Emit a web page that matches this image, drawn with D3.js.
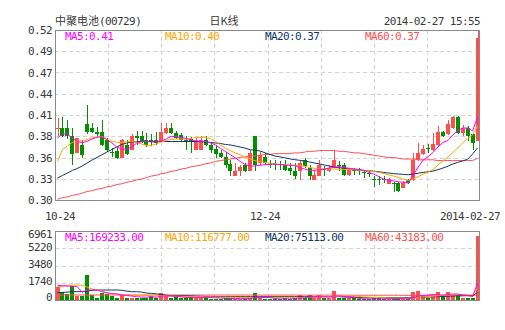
<!DOCTYPE html>
<html><head><meta charset="utf-8">
<script src="https://cdn.jsdelivr.net/npm/d3@7"></script>
<style>
body{margin:0;background:#fff;}
svg{display:block;}
.mono{font-family:"DejaVu Sans Mono",monospace;font-size:11px;letter-spacing:-0.6px;}
.cjk{font-family:"Noto Sans CJK SC",sans-serif;font-size:11px;}
</style></head><body>
<svg id="c" width="505" height="330"></svg>
<script>
const title = "中聚电池";
const code = "(00729)";
const chartName = "日K线";
const stamp = "2014-02-27 15:55";
const xLabels = ["10-24", "12-24", "2014-02-27"];
const xLabelIdx = [0, 42, 85];
const priceTicks = [0.30, 0.3275, 0.355, 0.3825, 0.41, 0.4375, 0.465, 0.4925, 0.52];
const priceTickLabels = ["0.30", "0.33", "0.36", "0.38", "0.41", "0.44", "0.47", "0.49", "0.52"];
const volTicks = [0, 1740.25, 3480.5, 5220.75, 6961];
const volTickLabels = ["0", "1740", "3480", "5220", "6961"];
const maNames = ["MA5", "MA10", "MA20", "MA60"];
const maPriceText = ["0.41", "0.40", "0.37", "0.37"];
const maVolText = ["169233.00", "116777.00", "75113.00", "43183.00"];

const open = [.393,.393,.393,.383,.361,.371,.398,.393,.388,.388,
.378,.3615,.363,.354,.371,.365,.383,.383,.378,.377,
.378,.376,.387,.393,.387,.384,.3782,.379,.365,.365,
.378,.371,.366,.361,.3556,.3466,.331,.3375,.345,.3375,
.383,.348,.3556,.3466,.346,.346,.3453,.3414,.3375,.3375,
.352,.3414,.326,.331,.340,.3375,.3414,.3459,.3453,.3324,
.3382,.3382,.3356,.3343,.3278,.3278,.3278,.3207,.3220,.3220,
.3155,.3259,.3259,.3518,.3595,.3673,.3647,.3712,.3880,.3854,
.3932,.4074,.3867,.3932,.3854,.3764];
const close = [.393,.383,.383,.3595,.380,.358,.388,.388,.385,.371,
.365,.361,.354,.378,.3595,.383,.380,.376,.371,.3764,
.374,.388,.393,.387,.380,.378,.3776,.376,.376,.378,
.371,.365,.3595,.3556,.3453,.3375,.3375,.343,.3375,.361,
.345,.358,.348,.3453,.3453,.3453,.339,.3375,.331,.348,
.344,.331,.3324,.3453,.339,.3414,.352,.3453,.3324,.3388,
.3375,.3375,.3349,.3336,.3272,.3272,.3272,.3272,.3207,.3116,
.3220,.3220,.3518,.3608,.3660,.3666,.3725,.3880,.3828,.3984,
.4074,.3867,.3932,.3828,.3738,.5096];
const high = [.406,.407,.4035,.393,.380,.378,.423,.3997,.3945,.4035,
.380,.367,.367,.379,.378,.385,.389,.389,.387,.385,
.388,.3997,.3997,.3997,.389,.387,.383,.3815,.380,.383,
.383,.374,.371,.365,.362,.352,.348,.345,.348,.365,
.383,.362,.361,.352,.352,.3505,.352,.348,.348,.352,
.3544,.3453,.339,.352,.344,.3453,.3634,.3505,.3479,.3414,
.3414,.3414,.3388,.3375,.3311,.3311,.3311,.3285,.3233,.3233,
.3246,.3272,.3608,.3738,.3712,.3725,.3867,.3958,.3893,.4035,
.4087,.4087,.3971,.3958,.3867,.52];
const low = [.383,.382,.379,.345,.361,.354,.385,.387,.383,.370,
.362,.3556,.353,.354,.358,.365,.371,.374,.369,.370,
.371,.376,.385,.385,.379,.376,.365,.361,.365,.365,
.370,.361,.354,.354,.3414,.331,.331,.331,.336,.3375,
.3375,.345,.345,.3414,.339,.339,.3375,.3324,.327,.326,
.3414,.326,.326,.331,.331,.336,.3414,.3375,.3311,.3311,
.3324,.3324,.3285,.3298,.3168,.3194,.3220,.3207,.3104,.3104,
.3155,.3207,.3246,.3505,.3582,.3608,.3634,.3699,.3815,.3841,
.3919,.3854,.3828,.3764,.3647,.3764];
const volume = [1340,840,605,1410,400,400,2520,500,230,740,
605,440,230,500,170,230,230,230,170,400,
170,740,400,170,330,170,170,400,170,170,
400,100,100,100,170,170,100,100,100,170,
740,170,100,100,100,100,170,100,170,500,
170,500,170,500,170,170,910,230,230,170,
170,100,100,100,170,170,100,170,170,170,
170,170,780,910,500,230,500,780,500,780,
500,550,230,230,230,6460];

const ma5 = [.3802,.3854,.3851,.3802,.3757,.3740,.3760,.3789,.3813,.3818,
.3780,.3738,.3686,.3660,.3656,.3686,.3734,.3753,.3757,.3751,
.3751,.3764,.3789,.3824,.3818,.3811,.3796,.3779,.3767,.3760,
.3757,.3738,.3712,.3667,.3628,.3585,.3544,.3498,.3457,.3440,
.3440,.3449,.3458,.3463,.3465,.3459,.3453,.3450,.3443,.3423,
.3401,.3381,.3385,.3391,.3401,.3414,.3423,.3432,.3421,.3410,
.3404,.3395,.3383,.3359,.3334,.3304,.3269,.3255,.3246,.3235,
.3228,.3220,.3324,.3427,.3518,.3563,.3615,.3686,.3744,.3770,
.3841,.3899,.3932,.3932,.3893,.4074];
const ma10 = [.3498,.3653,.3699,.3744,.3761,.3769,.3780,.3805,.3819,.3822,
.3789,.3760,.3748,.3741,.3751,.3760,.3744,.3725,.3708,.3708,
.3725,.3751,.3770,.3783,.3789,.3789,.3789,.3796,.3809,.3811,
.3809,.3796,.3760,.3712,.3670,.3638,.3608,.3582,.3553,.3531,
.3508,.3498,.3488,.3476,.3466,.3461,.3457,.3453,.3449,.3443,
.3436,.3421,.3408,.3401,.3401,.3401,.3401,.3399,.3396,.3393,
.3392,.3387,.3382,.3377,.3371,.3356,.3343,.3325,.3311,.3291,
.3269,.3252,.3272,.3304,.3333,.3362,.3395,.3453,.3505,.3556,
.3615,.3673,.3738,.3796,.3841,.3958];
const ma20 = [.3285,.3317,.3349,.3382,.3408,.3440,.3479,.3518,.3550,.3586,
.3621,.3653,.3686,.3718,.3738,.3751,.3754,.3757,.3757,.3757,
.3757,.3757,.3757,.3757,.3757,.3757,.3757,.3757,.3757,.3754,
.3751,.3744,.3738,.3731,.3718,.3712,.3699,.3686,.3670,.3651,
.3643,.3634,.3611,.3589,.3569,.3559,.3546,.3533,.3522,.3514,
.3505,.3492,.3479,.3466,.3453,.3440,.3425,.3417,.3409,.3401,
.3393,.3388,.3383,.3378,.3373,.3365,.3357,.3349,.3341,.3336,
.3331,.3327,.3336,.3347,.3357,.3365,.3375,.3392,.3414,.3437,
.3466,.3488,.3505,.3528,.3595,.3673];
const ma60 = [.301,.303,.304,.306,.307,.309,.311,.312,.314,.315,
.317,.318,.320,.321,.323,.324,.326,.327,.329,.331,
.332,.334,.335,.337,.338,.340,.341,.343,.344,.345,
.347,.348,.350,.351,.352,.353,.354,.355,.356,.357,
.357,.358,.359,.359,.360,.360,.360,.360,.361,.361,
.362,.363,.363,.364,.364,.364,.364,.363,.363,.362,
.361,.361,.360,.359,.358,.357,.356,.355,.355,.354,
.353,.353,.353,.352,.352,.352,.352,.351,.351,.351,
.351,.351,.351,.351,.351,.354];

const vma5 = [1470,1440,1400,1400,1340,780,1010,1010,1010,840,
740,640,600,500,450,400,330,300,280,300,
280,380,400,400,370,320,250,270,260,250,
270,250,220,200,180,160,150,140,140,150,
250,260,250,250,150,110,110,110,120,200,
200,300,300,330,330,300,400,400,350,330,
300,150,120,110,110,120,110,120,120,130,
110,110,250,400,480,500,560,560,500,560,
600,600,500,450,350,1690];
const vma10 = [1340,1360,1480,1510,1510,1480,1300,1100,1050,900,
700,650,620,560,520,500,480,470,450,420,
400,400,400,390,380,370,360,350,340,330,
320,310,300,290,280,270,260,250,250,250,
260,260,260,260,250,240,230,230,230,240,
250,270,290,310,330,340,360,370,380,380,
370,350,320,290,260,240,220,200,190,180,
170,170,210,260,300,340,380,420,460,500,
520,540,550,540,520,1170];
const vma20 = [740,760,800,840,840,840,900,980,1010,1010,
1010,1010,1010,980,900,840,840,800,700,670,
620,550,480,440,434,434,434,420,400,380,
370,360,350,340,340,333,333,333,333,333,
333,333,333,333,333,333,333,333,333,333,
333,333,333,333,333,333,333,333,300,280,
260,240,230,230,230,230,230,230,230,230,
230,230,240,260,280,300,320,340,360,380,
400,420,430,440,440,751];
const vma60 = [505,505,505,505,505,505,505,505,505,505,
505,505,505,505,505,505,505,505,505,505,
505,505,505,505,505,505,505,505,505,505,
500,500,500,500,500,500,500,500,500,500,
495,495,495,495,495,495,495,495,495,495,
490,490,490,490,490,490,490,490,490,490,
480,480,480,480,480,480,480,480,480,480,
470,465,460,455,450,450,445,445,440,440,
440,440,440,440,440,432];

const maColors = ["#ff00ff", "#ffa500", "#0f3767", "#ff5050"];
const UP = "#ff4e4e", DOWN = "#009000";
const GRID = "#d3d3d3", FRAME = "#8a8a8a", TXT = "#3a3a3a";

const svg = d3.select("#c");
const L = 55, R = 480, T = 30, B = 200, VT = 231, VB = 300;
const n = close.length;
const x = d3.scaleBand().domain(d3.range(n)).range([L, R]).padding(0);
const bw = x.bandwidth();
const y = d3.scaleLinear().domain([0.30, 0.52]).range([B, T]);
const vy = d3.scaleLinear().domain([0, 6961]).range([VB, VT]);
const cx = i => x(i) + bw / 2;

// header
const t1 = svg.append("text").attr("x", 55).attr("y", 25).attr("fill", TXT);
t1.append("tspan").attr("class", "cjk").text(title);
t1.append("tspan").attr("class", "mono").text(code);
svg.append("text").attr("class", "cjk").attr("x", 224).attr("y", 25)
  .attr("text-anchor", "middle").attr("fill", TXT).text(chartName);
svg.append("text").attr("class", "mono").attr("x", 480).attr("y", 25)
  .attr("text-anchor", "end").attr("fill", TXT).text(stamp);

function grid(top, bottom, yTicks, sc) {
  const g = svg.append("g").attr("stroke", GRID).attr("stroke-dasharray", "4,3")
    .attr("shape-rendering", "crispEdges");
  for (let k = 1; k < 8; k++) {
    const gx = Math.round(L + k * (R - L) / 8) + 0.5;
    g.append("line").attr("x1", gx).attr("x2", gx).attr("y1", top).attr("y2", bottom);
  }
  yTicks.forEach(v => {
    const gy = Math.round(sc(v)) + 0.5;
    if (gy > top + 1 && gy < bottom - 1)
      g.append("line").attr("x1", L).attr("x2", R).attr("y1", gy).attr("y2", gy);
  });
}
grid(T, B, priceTicks, y);
grid(VT, VB, volTicks, vy);

// axes labels
const ay = svg.append("g").attr("transform", `translate(${L},0)`)
  .call(d3.axisLeft(y).tickValues(priceTicks).tickSize(0).tickPadding(3)
    .tickFormat((d, i) => priceTickLabels[i]));
ay.select(".domain").remove();
ay.selectAll("text").attr("class", "mono").attr("fill", TXT).attr("font-family", null).attr("font-size", null);

const av = svg.append("g").attr("transform", `translate(${L},0)`)
  .call(d3.axisLeft(vy).tickValues(volTicks).tickSize(0).tickPadding(3)
    .tickFormat((d, i) => volTickLabels[i]));
av.select(".domain").remove();
av.selectAll(".tick").attr("transform", d => {
  let yy = vy(d) - 1;
  yy = Math.max(VT + 3, Math.min(VB - 3, yy));
  return `translate(0,${yy})`;
});
av.selectAll("text").attr("class", "mono").attr("fill", TXT).attr("font-family", null).attr("font-size", null);

// x labels
xLabelIdx.forEach((idx, k) => {
  const w = xLabels[k].length * 6;
  let c = cx(idx);
  c = Math.max(45 + w / 2, Math.min(500 - w / 2, c));
  svg.append("text").attr("class", "mono").attr("x", c).attr("y", 220)
    .attr("text-anchor", "middle").attr("fill", TXT).text(xLabels[k]);
});

// clip
svg.append("clipPath").attr("id", "cp").append("rect").attr("x", L).attr("y", T).attr("width", R - L).attr("height", B - T);
svg.append("clipPath").attr("id", "cv").append("rect").attr("x", L).attr("y", VT).attr("width", R - L).attr("height", VB - VT);

// candles
const cg = svg.append("g").attr("clip-path", "url(#cp)").attr("shape-rendering", "crispEdges");
d3.range(n).forEach(i => {
  const up = close[i] >= open[i];
  const col = up ? UP : DOWN;
  const bx = Math.round(x(i) + 0.5);
  cg.append("rect").attr("x", bx + 2).attr("width", 1)
    .attr("y", Math.round(y(high[i]))).attr("height", Math.max(1, Math.round(y(low[i])) - Math.round(y(high[i]))))
    .attr("fill", col);
  const top = Math.round(y(Math.max(open[i], close[i])));
  const bot = Math.round(y(Math.min(open[i], close[i])));
  cg.append("rect").attr("x", bx).attr("width", 4)
    .attr("y", top).attr("height", Math.max(1, bot - top)).attr("fill", col);
});

// MA lines
const mline = sc => d3.line().x((d, i) => cx(i)).y(d => sc(d));
const lg = svg.append("g").attr("clip-path", "url(#cp)");
[ma60, ma20, ma10, ma5].forEach((arr, k) => {
  lg.append("path").attr("d", mline(y)(arr)).attr("fill", "none")
    .attr("stroke", maColors[3 - k]).attr("stroke-width", 1);
});

// volume bars
const vg = svg.append("g").attr("clip-path", "url(#cv)").attr("shape-rendering", "crispEdges");
d3.range(n).forEach(i => {
  const up = close[i] >= open[i];
  const bx = Math.round(x(i) + 0.5);
  const ty = Math.round(vy(volume[i]));
  vg.append("rect").attr("x", bx).attr("width", 4).attr("y", ty)
    .attr("height", Math.max(1, VB - ty)).attr("fill", up ? UP : DOWN);
});
const vl = svg.append("g").attr("clip-path", "url(#cv)");
[vma60, vma20, vma10, vma5].forEach((arr, k) => {
  vl.append("path").attr("d", mline(vy)(arr)).attr("fill", "none")
    .attr("stroke", maColors[3 - k]).attr("stroke-width", 1);
});

// frames
svg.append("rect").attr("x", L + 0.5).attr("y", T + 0.5).attr("width", R - L - 1).attr("height", B - T)
  .attr("fill", "none").attr("stroke", FRAME);
svg.append("rect").attr("x", L + 0.5).attr("y", VT + 0.5).attr("width", R - L - 1).attr("height", VB - VT)
  .attr("fill", "none").attr("stroke", FRAME);

// legends
maNames.forEach((nm, k) => {
  svg.append("text").attr("class", "mono").attr("x", 65 + k * 100).attr("y", 40)
    .attr("fill", maColors[k]).text(nm + ":" + maPriceText[k]);
  svg.append("text").attr("class", "mono").attr("x", 65 + k * 100).attr("y", 241)
    .attr("fill", maColors[k]).text(nm + ":" + maVolText[k]);
});
</script>
</body></html>
